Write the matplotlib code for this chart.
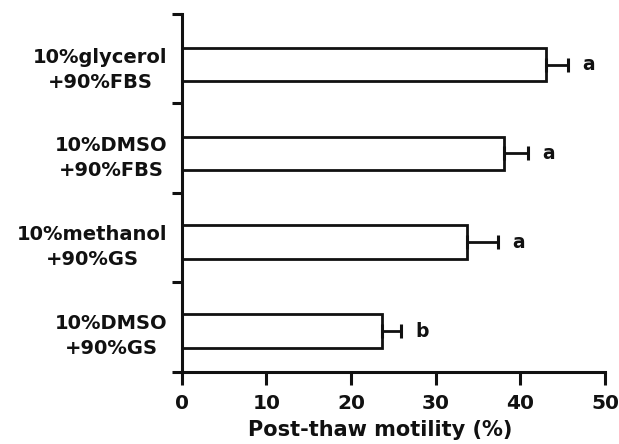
import numpy as np
import matplotlib
matplotlib.use("Agg")
import matplotlib.pyplot as plt

# data (bottom to top)
groups = ["10%DMSO\n+90%GS", "10%methanol\n+90%GS", "10%DMSO\n+90%FBS", "10%glycerol\n+90%FBS"]
motility = [23.7, 33.7, 38.1, 43.0]
sem = [2.2, 3.7, 2.8, 2.6]
letters = ["b", "a", "a", "a"]
x_ticks = [0, 10, 20, 30, 40, 50]

ink = "#111111"
plt.rcParams["font.family"] = ["DejaVu Sans"]
plt.rcParams["font.weight"] = "bold"

fig = plt.figure(figsize=(6.19, 4.44), dpi=100)
ax = fig.add_axes([0.2935, 0.1622, 0.6839, 0.8063])

pos = np.arange(len(groups))
ax.barh(pos, motility, height=0.38, color="white", edgecolor=ink, linewidth=2.0, zorder=2)
ax.errorbar(motility, pos, xerr=[np.zeros(len(sem)), sem], fmt="none",
            ecolor=ink, elinewidth=2.0, capsize=5, capthick=2.2, zorder=3)
for p, v, e, lab in zip(pos, motility, sem, letters):
    ax.text(v + e + 1.7, p, lab, ha="left", va="center", fontsize=13.5,
            fontweight="bold", color=ink)

y0, y1 = -0.46, 3.57
ax.set_ylim(y0, y1)
ax.set_xlim(0, 50)

# band boundaries carry the ticks, labels sit at the bar centres
ax.set_yticks(np.linspace(y0, y1, 5))
ax.set_yticklabels([])
ax.set_yticks(pos, minor=True)
ax.set_yticklabels(groups, minor=True, fontsize=14, fontweight="bold",
                   color=ink, multialignment="center", linespacing=1.4)
ax.tick_params(axis="y", which="minor", length=0, pad=10)
ax.tick_params(axis="y", which="major", length=7.5, width=2.2, color=ink)

ax.set_xticks(x_ticks)
ax.set_xticklabels([str(t) for t in x_ticks], fontsize=14.5, fontweight="bold", color=ink)
ax.tick_params(axis="x", length=9, width=2.2, color=ink, pad=7)
ax.set_xlabel("Post-thaw motility (%)", fontsize=15, fontweight="bold", color=ink)
ax.xaxis.set_label_coords(0.47, -0.133)

for side in ["top", "right"]:
    ax.spines[side].set_visible(False)
for side in ["left", "bottom"]:
    ax.spines[side].set_linewidth(2.2)
    ax.spines[side].set_color(ink)

plt.savefig("out.png", dpi=100)
